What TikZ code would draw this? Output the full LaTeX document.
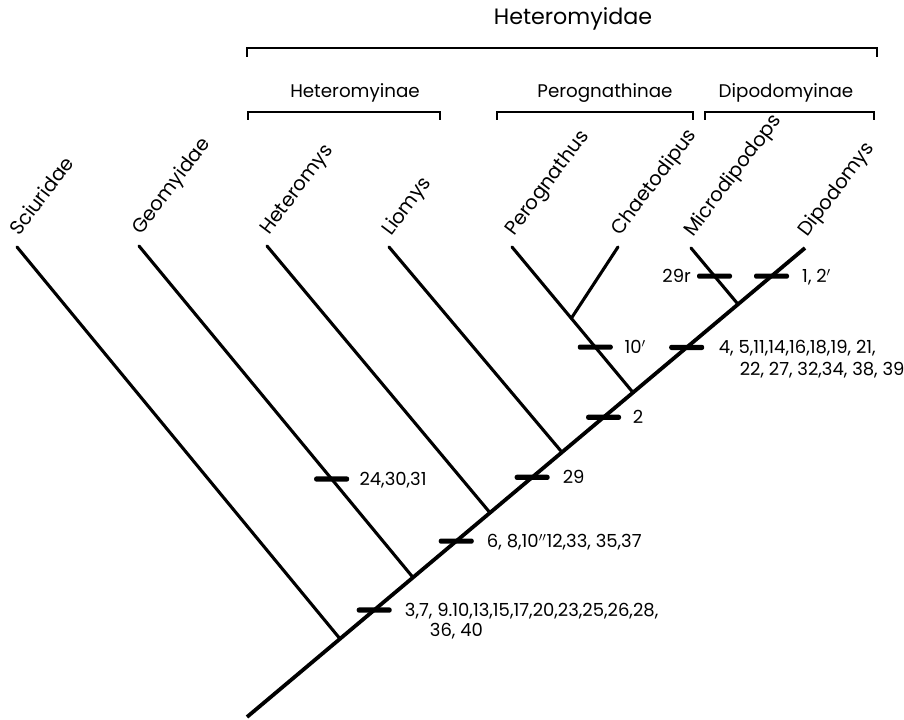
\documentclass[tikz,border=0pt]{standalone}
\usepackage{fontspec}
\setmainfont{Poppins}
\usetikzlibrary{calc, positioning}

\begin{document}
\begin{tikzpicture}[x=0.025cm, y=-0.025cm,
    trunk/.style={line width=2.7pt},
    branch/.style={line width=2.2pt, line cap=round},
    hashbar/.style={fill=black, rounded corners=1.6pt, inner sep=0pt,
                    minimum width=0.875cm, minimum height=0.13cm},
    taxon/.style={rotate=53, anchor=base west, inner sep=0pt,
                  font=\fontsize{14}{16}\selectfont},
    chars/.style={anchor=base west, inner sep=0pt,
                  font=\fontsize{12.8}{15}\selectfont},
    onbar/.style={yshift=-4.5pt},
    clade/.style={anchor=base, inner sep=0pt},
    bracket/.style={line width=1.1pt}]
  \useasboundingbox (0,0) rectangle (904,720);

  % Tips and forks
  \coordinate (root) at (247,717);
  \coordinate (tSci) at (17,247);
  \coordinate (tGeo) at (139,246);
  \coordinate (tHet) at (267,246);
  \coordinate (tLio) at (389,247);
  \coordinate (tPer) at (512,247);
  \coordinate (tCha) at (618,247);
  \coordinate (tMic) at (691,248);
  \coordinate (tDip) at (805,248);
  \coordinate (nSci) at ($(root)!0.1667!(tDip)$);
  \coordinate (nGeo) at ($(root)!0.2975!(tDip)$);
  \coordinate (nHet) at ($(root)!0.4355!(tDip)$);
  \coordinate (nLio) at ($(root)!0.5645!(tDip)$);
  \coordinate (nPer) at ($(root)!0.6918!(tDip)$);
  \coordinate (nDip) at ($(root)!0.88!(tDip)$);
  \coordinate (nCha) at ($(tPer)!0.49!(nPer)$);

  % Tree
  \draw[trunk] (root) -- (tDip);
  \draw[branch] (tSci) -- (nSci);
  \draw[branch] (tGeo) -- (nGeo);
  \draw[branch] (tHet) -- (nHet);
  \draw[branch] (tLio) -- (nLio);
  \draw[branch] (tPer) -- (nPer);
  \draw[branch] (tCha) -- (nCha);
  \draw[branch] (tMic) -- (nDip);

  % Taxa
  \node[taxon] (Sci) at ($(tSci)+(2,-10)$) {Sciuridae};
  \node[taxon] (Geo) at ($(tGeo)+(2,-10)$) {Geomyidae};
  \node[taxon] (Het) at ($(tHet)+(2,-10)$) {Heteromys};
  \node[taxon] (Lio) at ($(tLio)+(2,-10)$) {Liomys};
  \node[taxon] (Per) at ($(tPer)+(2,-10)$) {Perognathus};
  \node[taxon] (Cha) at ($(tCha)+(2,-10)$) {Chaetodipus};
  \node[taxon] (Mic) at ($(tMic)+(2,-10)$) {Microdipodops};
  \node[taxon] (Dip) at ($(tDip)+(2,-10)$) {Dipodomys};

  % Character changes
  \node[hashbar] (h1) at ($(root)!0.228!(tDip)$) {};
  \node[hashbar] (h2) at ($(root)!0.375!(tDip)$) {};
  \node[hashbar] (h3) at ($(root)!0.511!(tDip)$) {};
  \node[hashbar] (h4) at ($(root)!0.639!(tDip)$) {};
  \node[hashbar] (h5) at ($(root)!0.788!(tDip)$) {};
  \node[hashbar] (h6) at ($(root)!0.94!(tDip)$) {};
  \node[hashbar] (hGeo) at ($(tGeo)!0.703!(nGeo)$) {};
  \node[hashbar] (hPer) at ($(tPer)!0.688!(nPer)$) {};
  \node[hashbar] (hMic) at ($(tMic)!0.5!(nDip)$) {};

  \node[right=9pt of h1, chars, onbar] (c1) {3,7, 9.10,13,15,17,20,23,25,26,28,};
  \node[chars] (c1b) at ($(c1.base west)+(25,20)$) {36, 40};
  \node[right=9pt of h2, chars, onbar] (c2) {6, 8,10$''$12,33, 35,37};
  \node[right=9pt of h3, chars, onbar] (c3) {29};
  \node[right=8pt of h4, chars, onbar] (c4) {2};
  \node[right=10pt of h5, chars, onbar] (c5) {4, 5,11,14,16,18,19, 21,};
  \node[chars] (c5b) at ($(c5.base west)+(21,22)$) {22, 27, 32,34, 38, 39};
  \node[right=9pt of h6, chars, onbar] (c6) {1, 2$'$};
  \node[right=7pt of hGeo, chars, onbar] (cGeo) {24,30,31};
  \node[right=8pt of hPer, chars, onbar] (cPer) {10$'$};
  \node[left=4pt of hMic, chars, onbar, anchor=base east] (cMic) {29r};

  % Groups
  \node[clade, font=\fontsize{15.8}{18}\selectfont] (fam) at (573,25) {Heteromyidae};
  \node[clade, font=\fontsize{13}{16}\selectfont] (sub1) at (355,98) {Heteromyinae};
  \node[clade, font=\fontsize{13}{16}\selectfont] (sub2) at (605,98) {Perognathinae};
  \node[clade, font=\fontsize{13}{16}\selectfont] (sub3) at (786,98) {Dipodomyinae};
  \draw[bracket] (247,57) -- (247,48) -- (877,48) -- (877,57);
  \draw[bracket] (248,120) -- (248,112) -- (440,112) -- (440,120);
  \draw[bracket] (497,120) -- (497,112) -- (693,112) -- (693,120);
  \draw[bracket] (705,120) -- (705,112) -- (874,112) -- (874,120);
\end{tikzpicture}
\end{document}
